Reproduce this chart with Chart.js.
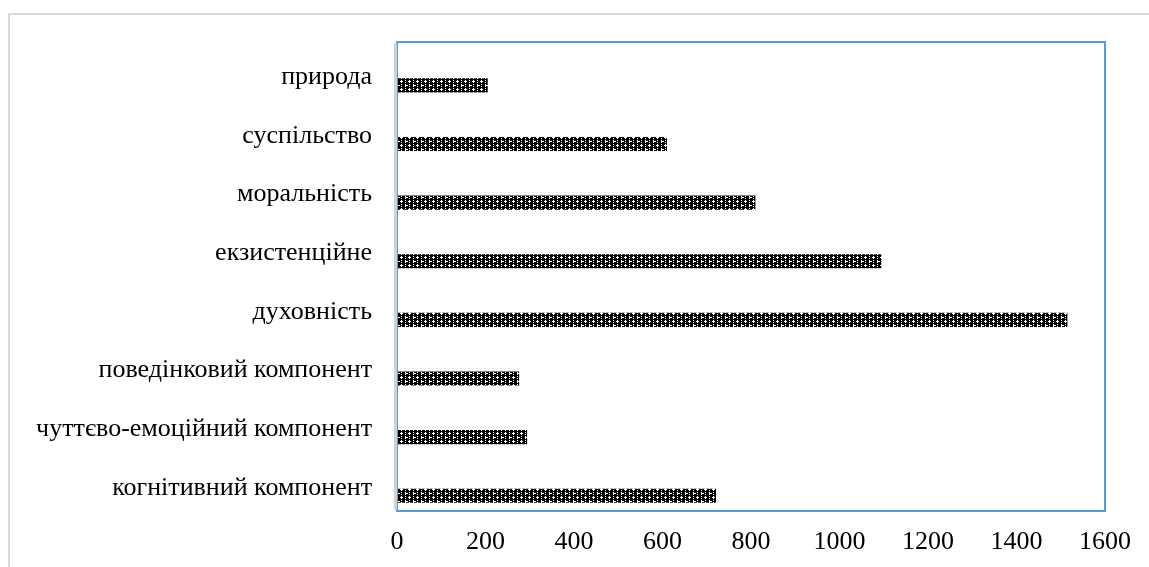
<!DOCTYPE html>
<html>
<head>
<meta charset="utf-8">
<script src="https://cdn.jsdelivr.net/npm/chart.js@4/dist/chart.umd.min.js"></script>
<style>
  html, body { margin: 0; padding: 0; background: #fff; overflow: hidden; }
  #frame { position: absolute; left: 8px; top: 13px; width: 1300px; height: 700px;
           border-left: 2px solid #d9d9d9; border-top: 2px solid #d9d9d9; }
  #wrap { position: absolute; left: 0; top: 0; width: 1149px; height: 567px; }
</style>
</head>
<body>
<div id="frame"></div>
<div id="wrap"><canvas id="c" width="1149" height="567"></canvas></div>
<script>
// Categories, top to bottom
const categories = [
  'природа',
  'суспільство',
  'моральність',
  'екзистенційне',
  'духовність',
  'поведінковий компонент',
  'чуттєво-емоційний компонент',
  'когнітивний компонент'
];
// Frequencies per category
const values = [205, 610, 810, 1095, 1515, 276, 294, 721];
// Empty companion series (keeps the bars in the lower half of each band)
const emptySeries = [null, null, null, null, null, null, null, null];
// Axis ticks
const xTicks = [0, 200, 400, 600, 800, 1000, 1200, 1400, 1600];

// Black fill with small white crosses
function makePattern() {
  const rows = [
    '#.###.##',
    '...#####',
    '#.###.##',
    '########',
    '#.###.##',
    '#####...',
    '#.###.##',
    '########'
  ];
  const p = document.createElement('canvas');
  p.width = 8; p.height = 8;
  const g = p.getContext('2d');
  g.fillStyle = '#fff';
  g.fillRect(0, 0, 8, 8);
  g.fillStyle = '#000';
  rows.forEach((r, y) => {
    for (let x = 0; x < 8; x++) if (r[x] === '#') g.fillRect(x, y, 1, 1);
  });
  return document.getElementById('c').getContext('2d').createPattern(p, 'repeat');
}

const frameBox = {
  id: 'frameBox',
  afterDatasetsDraw(chart) {
    const { ctx, chartArea: a } = chart;
    ctx.save();
    ctx.strokeStyle = '#5B9BD5';
    ctx.lineWidth = 2;
    ctx.strokeRect(a.left, a.top, a.right - a.left, a.bottom - a.top);
    ctx.strokeStyle = '#c9d3dd';
    ctx.lineWidth = 3;
    ctx.beginPath();
    ctx.moveTo(a.left - 1.5, a.top + 1);
    ctx.lineTo(a.left - 1.5, a.bottom - 1);
    ctx.stroke();
    ctx.restore();
  }
};

const font = { family: '"Liberation Serif", "Times New Roman", serif', size: 26 };

new Chart(document.getElementById('c'), {
  type: 'bar',
  data: {
    labels: categories,
    datasets: [
      { data: emptySeries, backgroundColor: 'rgba(0,0,0,0)' },
      { data: values, backgroundColor: makePattern(), borderWidth: 0 }
    ]
  },
  options: {
    indexAxis: 'y',
    responsive: false,
    animation: false,
    layout: { padding: { top: 42, right: 44, left: 0, bottom: 0 } },
    datasets: { bar: { categoryPercentage: 0.96, barPercentage: 0.5 } },
    plugins: { legend: { display: false }, tooltip: { enabled: false } },
    scales: {
      x: {
        min: 0, max: 1600,
        afterBuildTicks(scale) { scale.ticks = xTicks.map(v => ({ value: v })); },
        afterFit(scale) { scale.height = 56; },
        grid: { display: false, drawTicks: false },
        border: { display: false },
        ticks: { color: '#000', font, padding: 16, maxRotation: 0,
                 callback: v => String(v) }
      },
      y: {
        afterFit(scale) { scale.width = 397; },
        grid: { display: false, drawTicks: false },
        border: { display: false },
        ticks: { color: '#000', font, padding: 25, labelOffset: 6, autoSkip: false }
      }
    }
  },
  plugins: [frameBox]
});
</script>
</body>
</html>
